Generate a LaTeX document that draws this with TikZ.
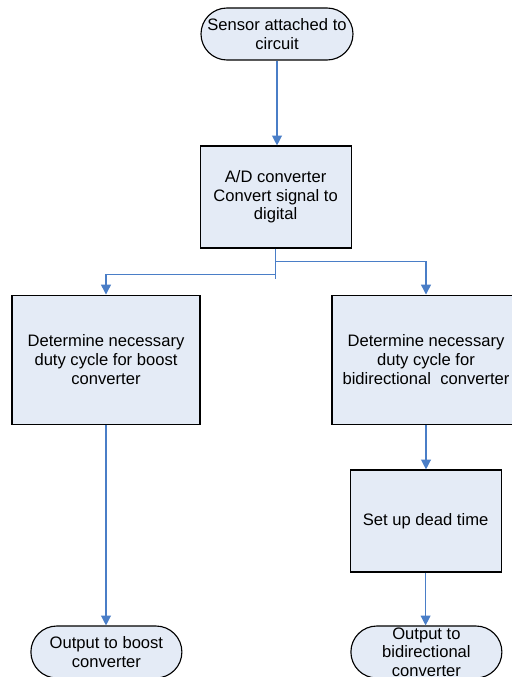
\documentclass[tikz,border=0pt]{standalone}
\usepackage{fontspec}
\setmainfont{Liberation Sans}
\usetikzlibrary{arrows.meta}
\definecolor{boxfill}{HTML}{E4EBF6}
\definecolor{flowline}{HTML}{4A7EC7}
\tikzset{
  procbox/.style={draw=black, fill=boxfill, line width=0.8pt, align=center,
    inner sep=0pt, font=\fontsize{11.8}{13.2}\selectfont},
  termbox/.style={procbox, rounded corners=0.65cm, minimum width=3.8cm, minimum height=1.3cm},
  flow/.style={draw=flowline, line width=0.9pt},
  flowarrow/.style={flow, -{Triangle[width=7pt,length=7pt]}}
}
\begin{document}
\begin{tikzpicture}
      \useasboundingbox (0,0) rectangle (12.8,-16.925);
      \node[termbox] (sensor) at (6.925,-0.85) {Sensor attached to\\circuit};
      \node[procbox, minimum width=3.775cm, minimum height=2.55cm] (adc) at (6.89,-4.925)
        {A/D converter\\Convert signal to\\digital};
      \node[procbox, minimum width=4.7cm, minimum height=3.225cm] (boost) at (2.65,-8.99)
        {Determine necessary\\duty cycle for boost\\converter};
      \node[procbox, minimum width=4.7cm, minimum height=3.225cm] (bidir) at (10.65,-8.99)
        {Determine necessary\\duty cycle for\\bidirectional\ \ converter};
      \node[procbox, minimum width=3.775cm, minimum height=2.55cm] (dead) at (10.64,-13.025)
        {Set up dead time};
      \node[termbox, minimum width=3.775cm] (outboost) at (2.66,-16.3)
        {Output to boost\\converter};
      \node[termbox, minimum width=3.775cm] (outbidir) at (10.66,-16.3)
        {Output to\\bidirectional\\converter};
      \coordinate (stub) at ([yshift=-0.75cm]adc.south);
      \coordinate (splitb) at ([yshift=-0.65cm]adc.south);
      \coordinate (splitd) at ([yshift=-0.325cm]adc.south);
      \begin{scope}[flowarrow]
        \draw (sensor.south) -- (sensor.south |- adc.north);
        \draw (splitb) -| (boost.north);
        \draw (splitd) -| (bidir.north);
        \draw (boost.south) -- (boost.south |- outboost.north);
        \draw (bidir.south) -- (bidir.south |- dead.north);
        \draw (dead.south) -- (dead.south |- outbidir.north);
      \end{scope}
      \draw[flow] (adc.south) -- (stub);
    \end{tikzpicture}
\end{document}
